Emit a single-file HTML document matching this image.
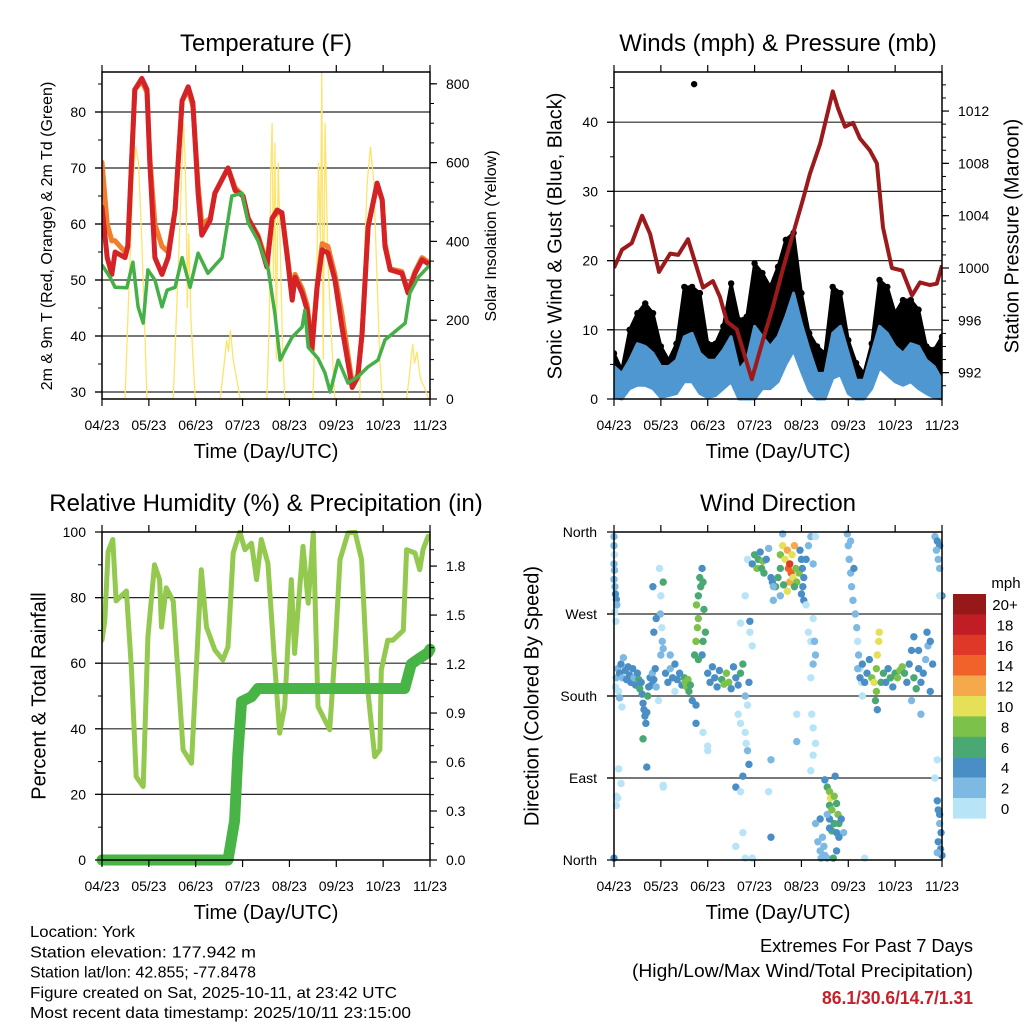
<!DOCTYPE html>
<html><head><meta charset="utf-8"><style>
html,body{margin:0;padding:0;background:#fff;}
svg{display:block;font-family:"Liberation Sans",sans-serif;}
</style></head><body>
<svg id="chart" width="1024" height="1024" viewBox="0 0 1024 1024" xmlns="http://www.w3.org/2000/svg"></svg>
<script>
// ---------- DATA ----------
const dayLabels = ["04/23","05/23","06/23","07/23","08/23","09/23","10/23","11/23"];
// Temperature panel
const tempT = [0,.11,.21,.28,.49,.55,.70,.85,.96,1.02,1.13,1.28,1.41,1.56,1.71,1.84,1.94,2.05,2.13,2.31,2.41,2.69,2.84,3.01,3.12,3.33,3.52,3.63,3.74,3.84,3.97,4.06,4.12,4.27,4.38,4.48,4.59,4.70,4.82,4.97,5.12,5.34,5.46,5.55,5.68,5.87,5.98,6.04,6.15,6.40,6.53,6.68,6.83,7.0];
const temp2m = [63,54,51,55,54,56,84,86,84,71,54,51,54,62.5,82,84.5,81.6,65.5,58,60.7,65.5,70,66,65,61,57.7,52.3,61,62.5,62,53,46.4,50.5,47.7,44.6,37.5,48.7,55.4,54.8,50,41.6,30.8,32.7,40.5,59.5,67.3,64.3,56,51.8,51.2,47.7,51.2,53.6,52.7];
const temp9m = [71,60,57,57,55,56,84,85.5,83.5,72,60,56,55,62.5,82,84,81,67,60,61,65.5,70,66.5,65,61,58,53,61,62,62,53.5,47,51,48.5,45.5,38,49,56.5,56,51,44,31.5,33,40.5,59.5,67,64.3,56.5,52,51.5,48,51.5,54,53];
const dewT = [0,.17,.28,.53,.66,.77,.88,.98,1.13,1.28,1.39,1.56,1.71,1.88,2.05,2.26,2.56,2.77,2.99,3.12,3.33,3.55,3.69,3.80,3.91,4.06,4.27,4.33,4.40,4.61,4.76,4.87,5.04,5.25,5.46,5.68,5.89,6.04,6.47,6.57,6.75,7.0];
const dewV = [52.7,50.5,48.7,48.6,53.2,45.2,42.3,51.8,50,45.2,48.2,48.7,54,48.7,54.8,51.2,54,65,65.5,60.2,57,51.8,44,35.7,37.5,39.8,41.6,44.6,38,36,33.4,30,35.7,31.6,32.7,34.5,35.7,39.3,42.3,47.7,50.5,52.7];
const solarT = [0,0.49,0.58,0.66,0.72,0.78,0.85,0.92,0.96,1.52,1.6,1.68,1.74,1.77,1.8,1.82,1.85,1.9,1.99,2.52,2.6,2.66,2.7,2.74,2.8,2.86,2.95,3.52,3.57,3.6,3.63,3.66,3.69,3.72,3.76,3.8,3.85,3.9,4.5,4.58,4.62,4.66,4.69,4.72,4.76,4.82,4.9,4.97,5.5,5.58,5.66,5.73,5.8,5.87,5.93,5.98,6.5,6.56,6.63,6.67,6.72,6.8,6.88,6.97,7];
const solarV = [0,0,300,550,640,600,400,150,0,0,250,500,700,620,480,230,420,200,0,0,80,150,120,175,100,60,0,0,200,560,700,300,650,100,600,400,150,0,0,300,600,400,830,100,700,350,150,0,0,300,550,640,550,300,100,0,0,60,140,90,120,50,30,0,0];
// Wind panel
const windT = [0,1,2,3,4,5,6,7,8,9,10,11,12,13,14,15,16,17,18,19,20,21,22,23,24,25,26,27,28,29,30,31,32,33,34,35,36,37,38,39,40,41,42]; // 4-hour steps
const windLo = [.3,0,1.5,2,2,1.5,.2,.5,.8,2.5,2.5,.8,.2,.5,1.5,2.5,0,0,0,1.5,1.5,2.5,5,7,4,1.2,0,0,3,3.5,.8,0,0,1.5,4.5,3.5,2.5,2,2.5,1.5,.8,.2,0];
const windHi = [4.7,3.7,5.6,8,7.6,6.6,4.7,4.7,5.6,9,9.5,6.6,5.6,5.6,7.1,9,4.2,5.6,10.5,9,7.6,9,11.9,15.3,10.9,7.1,3.7,3.7,9.5,10.5,6.6,2.7,2.7,6.6,10.5,9.5,7.6,6.6,8,7.6,5.6,4.7,2.7];
const gustV = [6.6,4.2,10,12.4,13.8,12.4,7.6,5.6,8,16.2,16.2,15.3,8,8,10.5,16.7,11.4,11.9,19.6,18.2,16.2,19.1,23,24,15.3,9.5,7.6,6.6,16.2,15.3,8.5,5.2,3.7,8,17.2,16.2,12.4,14.3,14.3,12.9,7.6,7.1,9];
const gustOutlierT = [1.71];
const gustOutlierV = [45.5];
const presT = [0,.17,.38,.6,.77,.96,1.2,1.37,1.58,1.77,1.9,2.11,2.26,2.41,2.62,2.94,3.18,3.39,3.61,3.82,4.03,4.18,4.4,4.67,4.78,4.93,5.1,5.25,5.46,5.61,5.74,5.93,6.15,6.36,6.53,6.74,6.89,7.0];
const presV = [1000,1001.4,1001.9,1004,1002.6,999.7,1001.1,1001,1002.2,1000,998.5,999,997.8,995.9,995.3,991.5,994.5,997,1000,1002.6,1005.2,1007.2,1009.5,1013.5,1012.2,1010.8,1011.1,1009.9,1009,1008,1003.1,1000,999.8,997.9,998.9,998.7,998.8,1000.2];
// RH / precip panel
const rhT = [0,.06,.13,.23,.3,.52,.63,.73,.88,.98,1.12,1.23,1.27,1.37,1.52,1.73,1.91,2.12,2.23,2.41,2.58,2.69,2.8,2.94,3.05,3.19,3.3,3.4,3.54,3.68,3.79,3.9,4.04,4.11,4.29,4.4,4.51,4.61,4.86,4.97,5.08,5.25,5.4,5.54,5.68,5.82,5.93,5.96,6.1,6.21,6.43,6.5,6.68,6.78,6.85,6.96];
const rhV = [67,73,94,97.7,79,82,58,25.4,22.4,68,90,85.5,71,83,79,33.6,29.5,88.5,71,64,61,65,93.6,100,94.6,96.6,85.5,97.7,90.5,61,38.7,46.8,85.5,63,95.6,78.3,99.7,46.8,39.7,63,91.6,99.7,100,91.6,50.9,31.5,33.6,58,67,67,70,94.6,93.6,88.5,94.6,98.7];
const precipT = [0,2.69,2.83,2.9,2.98,3.19,3.33,6.46,6.6,6.75,6.96,7.0];
const precipV = [0,0,0.24,0.65,0.97,1.0,1.05,1.05,1.2,1.23,1.27,1.29];
// Wind direction panel
const dirT = [0.00,0.0,0.01,0.0,0.01,0.0,0.02,0.03,0.05,0.06,0.02,0.04,0.0,
0.05,0.08,0.12,0.15,0.18,0.2,0.24,0.27,0.3,0.33,0.36,0.4,0.43,0.46,0.5,0.53,0.55,0.58,0.6,0.62,0.64,0.66,0.68,0.7,0.72,0.74,0.77,0.8,0.82,0.85,0.88,0.9,0.62,0.7,0.1,0.03,0.17,0.05,0.15,0.08,0.12,
0.97,1.0,0.99,1.02,1.03,1.05,1.0,0.95,1.05,0.85,0.9,0.83,1.05,
1.1,1.15,1.2,1.25,1.3,1.35,1.4,1.45,1.5,1.52,1.55,1.58,1.6,1.63,1.67,1.2,1.3,
1.72,1.75,1.78,1.8,1.76,1.8,1.85,1.83,1.88,1.9,1.92,1.95,1.9,1.88,1.8,1.75,1.75,1.9,2.0,
2.0,2.05,2.1,2.15,2.2,2.25,2.3,2.35,2.4,2.45,2.5,2.55,2.6,2.65,2.7,2.75,2.8,2.85,2.88,
2.65,2.7,2.8,2.82,2.85,2.88,2.75,2.6,2.7,2.75,2.6,2.8,2.9,2.95,2.9,2.85,2.8,2.7,
2.95,3.0,3.05,3.08,3.12,3.15,3.18,3.2,3.25,3.3,3.35,3.38,3.4,
3.45,3.5,3.55,3.55,3.6,3.65,3.7,3.72,3.75,3.78,3.75,3.7,3.8,3.85,3.82,3.88,3.9,3.62,3.55,3.6,3.95,3.85,
3.97,4.0,4.02,4.05,4.03,4.0,4.05,4.1,4.15,4.2,4.25,4.3,4.1,4.15,4.2,4.25,4.22,4.25,4.3,4.25,4.2,
4.5,4.55,4.6,4.62,4.6,4.65,4.7,4.75,4.78,4.8,4.7,4.6,4.65,4.75,4.85,4.72,4.55,4.4,4.9,
4.35,4.4,4.42,4.48,4.5,4.55,4.45,4.3,4.75,4.8,4.6,4.68,
4.98,5.0,5.02,5.05,5.07,5.1,5.15,5.18,5.2,5.22,5.25,5.28,5.3,5.05,5.12,5.35,
5.2,5.25,5.3,5.35,5.4,5.45,5.5,5.55,5.6,5.62,5.65,5.66,5.6,5.58,5.7,5.75,5.8,5.85,5.9,5.95,6.0,6.05,6.1,6.15,6.2,6.25,6.3,6.35,6.4,6.45,6.5,6.55,6.6,6.65,6.7,6.75,6.68,6.55,6.4,6.5,5.62,6.35,6.8,6.75,
6.85,6.9,6.95,6.92,6.95,6.88,7.0,6.95,6.9,6.9,6.92,6.95,6.95,6.98,6.92,6.97,7.0,6.9,6.85,
0.1,0.05,1.05,2.0,3.3,3.35,3.35,2.95,3.4,3.9,3.9,4.28,4.3,4.25,4.2];
const dirDeg = [355,345,335,325,318,308,300,292,286,280,272,262,2,
200,210,205,215,200,222,208,198,212,203,195,210,200,192,205,198,188,195,182,172,165,158,150,162,180,190,200,192,205,198,210,190,133,102,185,190,168,60,84,68,178,
320,290,270,255,240,232,225,175,80,250,265,300,305,
205,195,210,200,215,198,205,192,200,195,190,198,185,192,175,225,185,
225,240,255,265,280,290,300,310,320,305,275,250,240,225,220,170,150,140,125,
205,195,212,200,190,208,198,193,205,195,188,212,200,192,205,215,180,170,195,
160,150,140,128,120,105,92,80,75,30,15,2,250,235,262,330,290,260,
325,335,320,330,338,320,328,315,330,342,310,305,285,
300,310,320,335,345,330,340,320,325,315,305,295,335,345,310,320,305,302,290,358,315,300,
340,330,320,310,300,292,285,330,345,355,325,355,280,250,240,215,160,145,128,115,98,
88,80,75,68,60,55,70,62,50,40,40,45,32,30,45,92,50,45,30,
20,10,2,15,5,2,25,40,10,25,35,2,
358,345,330,315,300,285,270,255,240,225,210,195,180,350,320,2,
210,200,215,195,205,220,200,195,210,225,240,250,185,175,195,205,195,210,200,190,205,200,208,212,205,195,215,230,200,188,210,195,205,220,235,240,250,160,245,230,165,175,215,185,
355,350,345,330,320,340,290,290,110,65,55,50,40,30,20,12,5,8,90,
100,70,82,120,75,110,25,2,300,130,160,240,225,265,200];
const dirSpd = [3,2,1,2,2,2,3,4,4,3,1,1,4,
2,3,4,4,3,3,4,4,4,4,5,4,3,4,4,7,6,4,5,4,5,4,4,5,6,5,4,4,3,4,4,3,6,4,1,1,1,1,1,1,2,
1,1,2,1,2,3,2,1,1,4,4,5,6,
4,4,3,4,4,4,5,4,6,8,8,8,7,6,4,2,1,
6,8,8,8,8,6,6,6,5,6,6,6,6,4,6,4,4,1,1,
4,4,4,5,4,4,6,8,8,8,4,5,4,5,6,6,3,1,4,
1,1,1,1,2,4,4,4,1,1,1,1,1,1,4,1,1,1,
5,6,8,6,5,6,8,6,5,3,5,5,2,
6,6,6,8,10,10,12,14,16,14,12,10,10,12,10,8,8,6,2,3,8,6,
4,4,5,4,4,4,4,4,3,3,2,1,1,1,1,2,1,1,1,1,1,
4,6,8,10,6,8,8,6,8,6,6,4,6,4,4,4,2,4,2,
2,2,2,2,2,2,2,2,4,4,4,6,
2,2,2,2,3,2,2,2,1,2,1,1,1,2,4,1,
2,4,4,4,5,4,8,10,8,10,10,10,8,6,6,6,4,4,6,4,6,8,8,8,6,4,4,4,6,6,5,4,4,3,3,4,4,2,4,4,4,2,4,4,
3,4,4,2,2,2,4,1,1,5,4,4,2,4,4,4,4,2,1,
1,1,1,1,1,2,4,1,2,2,1,2,2,1,1];
const legendLabels = ["20+","18","16","14","12","10","8","6","4","2","0"];
const speedColors = ["#b8e4f8","#7eb9e3","#4a8ec6","#4aa873","#7cc24a","#e6e056","#f6a94a","#f0622a","#e03828","#c01e24","#961818"];

// ---------- HELPERS ----------
const NS = "http://www.w3.org/2000/svg";
const svg = document.getElementById("chart");
function mk(tag, parent, attrs) {
  const e = document.createElementNS(NS, tag);
  for (const k in attrs) e.setAttribute(k, attrs[k]);
  (parent || svg).appendChild(e);
  return e;
}
function txt(parent, x, y, s, size, anchor, extra) {
  const t = mk("text", parent, Object.assign({x: x, y: y, "font-size": size, "text-anchor": anchor || "middle", fill: "#000"}, extra || {}));
  t.textContent = s;
  return t;
}
function pathFrom(xs, ys) {
  return xs.map((x, i) => (i ? "L" : "M") + x.toFixed(1) + "," + ys[i].toFixed(1)).join("");
}

const P1 = {x0:102,x1:430,y0:72,y1:399};
const P2 = {x0:614,x1:942,y0:72,y1:399};
const P3 = {x0:102,x1:430,y0:532,y1:860};
const P4 = {x0:614,x1:942,y0:532,y1:860};
function xOf(p, t) { return p.x0 + t * (p.x1 - p.x0) / 7; }
const yTemp = v => 392 - (v - 30) * 5.6;
const ySolar = v => 399 - v * 0.394;
const yWind = v => 399 - v * 6.92;
const yPres = v => 268 - (v - 1000) * 13.08;
const yRH = v => 860 - v * 3.28;
const yPrecip = v => 860 - v * 163.3;
const yDir = v => 860 - v * 328 / 360;

let clipId = 0;
function panel(p, name) {
  const g = mk("g", svg, {});
  
  
  const cp = mk("clipPath", svg, {id: "clip" + (++clipId)});
  mk("rect", cp, {x: p.x0, y: p.y0 - 2, width: p.x1 - p.x0, height: p.y1 - p.y0 + 4});
  p.clip = "url(#clip" + clipId + ")";
  p.g = g;
  return g;
}
function grid(p, ys, name) {
  const g = mk("g", p.g, {});
  
  
  ys.forEach(y => mk("line", g, {x1: p.x0 - 7, x2: p.x1, y1: y, y2: y, stroke: "#000", "stroke-width": 1.2, opacity: 0.85}));
}
function frameAndX(p, title) {
  const g = mk("g", p.g, {});
  
  
  mk("rect", g, {x: p.x0, y: p.y0, width: p.x1 - p.x0, height: p.y1 - p.y0, fill: "none", stroke: "#000", "stroke-width": 1.5});
  dayLabels.forEach((lab, i) => {
    const x = xOf(p, i);
    mk("line", g, {x1: x, x2: x, y1: p.y0, y2: p.y0 - 7, stroke: "#000", "stroke-width": 1.2});
    mk("line", g, {x1: x, x2: x, y1: p.y1, y2: p.y1 + 7, stroke: "#000", "stroke-width": 1.2});
    const t = txt(g, x, p.y1 + 31, lab, 14);
    
    
  });
  const at = txt(g, (p.x0 + p.x1) / 2, p.y1 + 59, "Time (Day/UTC)", 20);
  
  
  const tt = txt(p.g, (p.x0 + p.x1) / 2, p.y0 - 21, title, 24);
  
  
}
function yAxis(p, side, vals, labels, yf, minor, name, lx) {
  const g = mk("g", p.g, {});
  
  
  const x = side === "left" ? p.x0 : p.x1;
  const d = side === "left" ? -1 : 1;
  minor.forEach(v => mk("line", g, {x1: x, x2: x + d * 4, y1: yf(v), y2: yf(v), stroke: "#000", "stroke-width": 1}));
  vals.forEach((v, i) => {
    const y = yf(v);
    mk("line", g, {x1: x, x2: x + d * 7, y1: y, y2: y, stroke: "#000", "stroke-width": 1.2});
    const t = txt(g, lx, y + 5, labels[i], 14, side === "left" ? "end" : "start");
    
    
  });
}
function yTitle(p, x, cy, s, size, name) {
  const t = txt(p.g, 0, 0, s, size, "middle", {transform: "translate(" + x + "," + cy + ") rotate(-90)", "dominant-baseline": "middle"});
  
  
}
function range(a, b, s) { const r = []; for (let v = a; v <= b + 1e-9; v += s) r.push(Math.round(v * 100) / 100); return r; }

// ---------- PANEL 1: TEMPERATURE ----------
panel(P1, "temperature-panel");
grid(P1, [30,40,50,60,70,80].map(yTemp), "temperature-gridlines");
const g1 = mk("g", P1.g, {"clip-path": P1.clip});
const solarLine = mk("path", g1, {d: pathFrom(solarT.map(t => xOf(P1, t)), solarV.map(ySolar)), fill: "none", stroke: "#fde46a", "stroke-width": 1.3});


const orangeLine = mk("path", g1, {d: pathFrom(tempT.map(t => xOf(P1, t)), temp9m.map(yTemp)), fill: "none", stroke: "#f07e2a", "stroke-width": 5, "stroke-linejoin": "round", "stroke-linecap": "round"});


const redLine = mk("path", g1, {d: pathFrom(tempT.map(t => xOf(P1, t)), temp2m.map(yTemp)), fill: "none", stroke: "#d42226", "stroke-width": 5, "stroke-linejoin": "round", "stroke-linecap": "round"});


const dewLine = mk("path", g1, {d: pathFrom(dewT.map(t => xOf(P1, t)), dewV.map(yTemp)), fill: "none", stroke: "#46b048", "stroke-width": 3.5, "stroke-linejoin": "round"});


frameAndX(P1, "Temperature (F)");
yAxis(P1, "left", [30,40,50,60,70,80], ["30","40","50","60","70","80"], yTemp, range(35, 85, 10), "y-axis-left", 86);
yAxis(P1, "right", [0,200,400,600,800], ["0","200","400","600","800"], ySolar, range(50, 800, 50), "y-axis-right", 446);
yTitle(P1, 48, 236, "2m & 9m T (Red, Orange) & 2m Td (Green)", 16, "y-axis-title-left");
yTitle(P1, 492, 236, "Solar Insolation (Yellow)", 16, "y-axis-title-right");

// ---------- PANEL 2: WINDS ----------
panel(P2, "winds-panel");
grid(P2, [10,20,30,40].map(yWind), "wind-gridlines");
const g2 = mk("g", P2.g, {"clip-path": P2.clip});
const wx = windT.map(k => xOf(P2, k / 6));
const gustPoly = mk("path", g2, {d: pathFrom(wx.concat(wx.slice().reverse()), gustV.map(yWind).concat(windHi.map(yWind).reverse())) + "Z", fill: "#000", stroke: "#000", "stroke-width": 3, "stroke-linejoin": "round"});


wx.forEach((x, i) => {
  const c = mk("circle", g2, {cx: x, cy: yWind(gustV[i]), r: 3.2, fill: "#000"});
  
  
});
gustOutlierT.forEach((t, i) => {
  const c = mk("circle", g2, {cx: xOf(P2, t), cy: yWind(gustOutlierV[i]), r: 3.2, fill: "#000"});
  
  
});
const windPoly = mk("path", g2, {d: pathFrom(wx.concat(wx.slice().reverse()), windHi.map(yWind).concat(windLo.map(yWind).reverse())) + "Z", fill: "#4f97d0", stroke: "#4f97d0", "stroke-width": 3, "stroke-linejoin": "round"});


const presLine = mk("path", g2, {d: pathFrom(presT.map(t => xOf(P2, t)), presV.map(yPres)), fill: "none", stroke: "#9c1a1c", "stroke-width": 4, "stroke-linejoin": "round"});


frameAndX(P2, "Winds (mph) & Pressure (mb)");
yAxis(P2, "left", [0,10,20,30,40], ["0","10","20","30","40"], yWind, range(5, 45, 10), "y-axis-left", 598);
yAxis(P2, "right", [992,996,1000,1004,1008,1012], ["992","996","1000","1004","1008","1012"], yPres, range(991, 1014, 1), "y-axis-right", 958);
yTitle(P2, 556, 236, "Sonic Wind & Gust (Blue, Black)", 20, "y-axis-title-left");
yTitle(P2, 1013, 236, "Station Pressure (Maroon)", 20, "y-axis-title-right");

// ---------- PANEL 3: RH & PRECIP ----------
panel(P3, "humidity-panel");
grid(P3, [20,40,60,80].map(yRH), "rh-gridlines");
const g3 = mk("g", P3.g, {"clip-path": P3.clip});
const rhLine = mk("path", g3, {d: pathFrom(rhT.map(t => xOf(P3, t)), rhV.map(yRH)), fill: "none", stroke: "#92c94e", "stroke-width": 5, "stroke-linejoin": "round", "stroke-linecap": "round"});


const g3b = mk("g", P3.g, {});
const prLine = mk("path", g3b, {d: pathFrom(precipT.map(t => xOf(P3, t)), precipV.map(yPrecip)), fill: "none", stroke: "#48b446", "stroke-width": 11, "stroke-linejoin": "round", "stroke-linecap": "round"});


frameAndX(P3, "Relative Humidity (%) & Precipitation (in)");
yAxis(P3, "left", [0,20,40,60,80,100], ["0","20","40","60","80","100"], yRH, range(10, 90, 20), "y-axis-left", 86);
yAxis(P3, "right", [0,0.3,0.6,0.9,1.2,1.5,1.8], ["0.0","0.3","0.6","0.9","1.2","1.5","1.8"], yPrecip, range(0.1, 1.9, 0.1), "y-axis-right", 446);
yTitle(P3, 40, 696, "Percent & Total Rainfall", 20, "y-axis-title-left");

// ---------- PANEL 4: WIND DIRECTION ----------
panel(P4, "wind-direction-panel");
grid(P4, [90,180,270].map(yDir), "direction-gridlines");
const g4 = mk("g", P4.g, {});
function spdColor(s) { return speedColors[Math.min(10, Math.max(0, Math.floor(s / 2)))]; }
dirT.forEach((t, i) => {
  const c = mk("circle", g4, {cx: xOf(P4, t), cy: yDir(dirDeg[i]), r: 3.7, fill: spdColor(dirSpd[i])});
  
  
});
frameAndX(P4, "Wind Direction");
yAxis(P4, "left", [0,90,180,270,360], ["North","East","South","West","North"], yDir, [], "y-axis-left", 597);
yTitle(P4, 533, 696, "Direction (Colored By Speed)", 20, "y-axis-title-left");

// legend
const lg = mk("g", svg, {});


txt(lg, 1006, 588, "mph", 15);
legendLabels.forEach((lab, i) => {
  const y = 594 + i * 20.4;
  const r = mk("rect", lg, {x: 953, y: y, width: 33, height: 20.6, fill: speedColors[10 - i]});
  
  
  const t = txt(lg, 1005, y + 16, lab, 15);
  
  
});

// footer text
const info = ["Location: York","Station elevation: 177.942 m","Station lat/lon: 42.855; -77.8478","Figure created on Sat, 2025-10-11, at 23:42 UTC","Most recent data timestamp: 2025/10/11 23:15:00"];
const infoW = [105,226,226,367,381];
const ig = mk("g", svg, {});


info.forEach((s, i) => {
  const t = txt(ig, 30, 937 + i * 20.3, s, 16, "start", {textLength: infoW[i], lengthAdjust: "spacingAndGlyphs"});
  
  
});
const eg = mk("g", svg, {});


const e1 = txt(eg, 973, 952, "Extremes For Past 7 Days", 18, "end", {textLength: 213, lengthAdjust: "spacingAndGlyphs"});


const e2 = txt(eg, 973, 977, "(High/Low/Max Wind/Total Precipitation)", 18, "end", {textLength: 341, lengthAdjust: "spacingAndGlyphs"});


const e3 = txt(eg, 973, 1004, "86.1/30.6/14.7/1.31", 18, "end", {fill: "#c8202a", "font-weight": "bold", textLength: 151, lengthAdjust: "spacingAndGlyphs"});


</script>
</body></html>
